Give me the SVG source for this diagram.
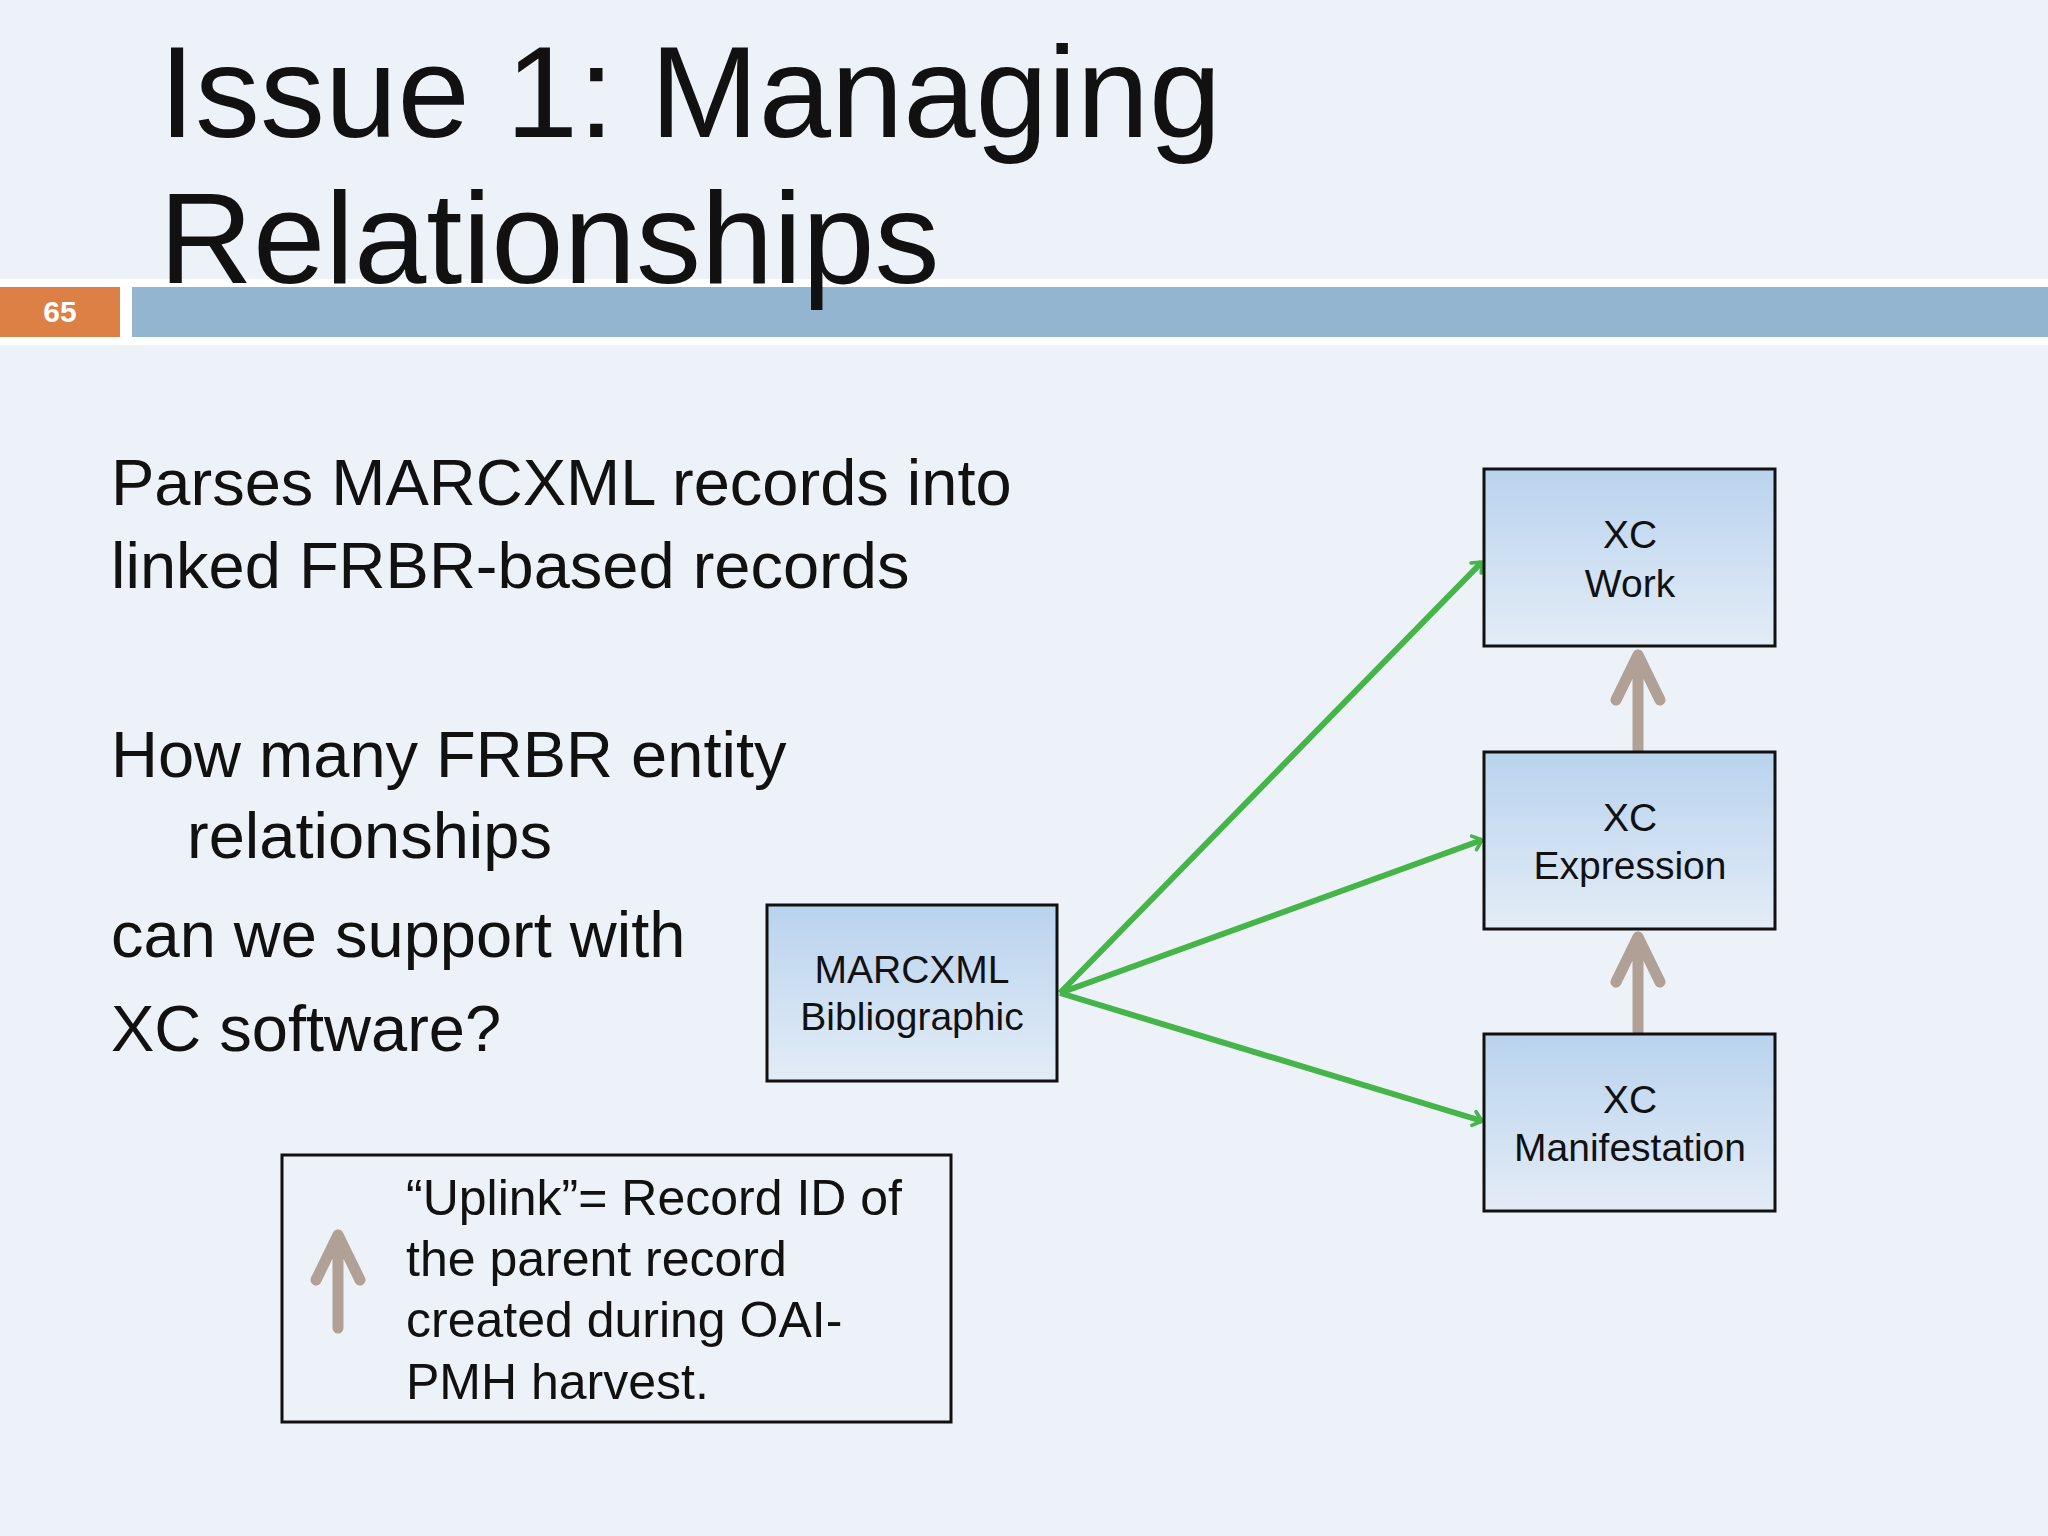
<svg xmlns="http://www.w3.org/2000/svg" width="2048" height="1536" viewBox="0 0 2048 1536">
<defs>
<linearGradient id="g" x1="0" y1="0" x2="0" y2="1"><stop offset="0" stop-color="#b9d3ee"/><stop offset="1" stop-color="#e3ecf6"/></linearGradient>
<marker id="ga" viewBox="0 0 10 10" refX="9" refY="5" markerWidth="6" markerHeight="6" markerUnits="userSpaceOnUse" orient="auto" overflow="visible"><path d="M-14,-12 L0,0 L-14,12" transform="translate(9,5)" fill="none" stroke="#45b54a" stroke-width="6" stroke-linecap="round" stroke-linejoin="round"/></marker>
</defs>
<style>
text{font-family:"Liberation Sans",Arial,sans-serif;fill:#111}
.box{fill:url(#g);stroke:#111;stroke-width:3}
.bt{font-size:39px;text-anchor:middle}
.body{font-size:65px}
.leg{font-size:50px}
.green{stroke:#45b54a;stroke-width:6;fill:none;marker-end:url(#ga)}
.brown{stroke:#b1a096;stroke-width:11;fill:none;stroke-linecap:round;stroke-linejoin:round}
</style>
<rect width="2048" height="1536" fill="#edf1f8"/>
<rect x="0" y="279" width="2048" height="66" fill="#fff"/>
<rect x="0" y="287" width="120" height="50" fill="#dd8046"/>
<rect x="132" y="287" width="1916" height="50" fill="#93b5d0"/>
<text x="60" y="322" style="font-size:30px;font-weight:bold;fill:#fff;text-anchor:middle">65</text>
<text x="159" y="137" style="font-size:130px">Issue 1: Managing</text>
<text x="159" y="283" style="font-size:130px">Relationships</text>
<text class="body" x="111" y="505">Parses MARCXML records into</text>
<text class="body" x="111" y="588">linked FRBR-based records</text>
<text class="body" x="111" y="777">How many FRBR entity</text>
<text class="body" x="187" y="858">relationships</text>
<text class="body" x="111" y="957">can we support with</text>
<text class="body" x="111" y="1051">XC software?</text>
<g id="connectors">
<line class="green" x1="1060" y1="993" x2="1482" y2="562"/>
<line class="green" x1="1060" y1="993" x2="1482" y2="840"/>
<line class="green" x1="1060" y1="993" x2="1482" y2="1121"/>
<path class="brown" d="M1638,750 V655 M1616,700 L1638,655 L1660,700"/>
<path class="brown" d="M1638,1032 V937 M1616,982 L1638,937 L1660,982"/>
</g>
<g id="marc"><rect class="box" x="767" y="905" width="290" height="176"/><text class="bt" x="912" y="983">MARCXML</text><text class="bt" x="912" y="1030">Bibliographic</text></g>
<g id="work"><rect class="box" x="1484" y="469" width="291" height="177"/><text class="bt" x="1630" y="548">XC</text><text class="bt" x="1630" y="597">Work</text></g>
<g id="expr"><rect class="box" x="1484" y="752" width="291" height="177"/><text class="bt" x="1630" y="831">XC</text><text class="bt" x="1630" y="879">Expression</text></g>
<g id="manif"><rect class="box" x="1484" y="1034" width="291" height="177"/><text class="bt" x="1630" y="1113">XC</text><text class="bt" x="1630" y="1161">Manifestation</text></g>
<g id="legend">
<rect x="282" y="1155" width="669" height="267" fill="none" stroke="#111" stroke-width="3"/>
<path class="brown" d="M338,1328 V1235 M316,1280 L338,1235 L360,1280"/>
<text class="leg" x="406" y="1215">“Uplink”= Record ID of</text>
<text class="leg" x="406" y="1276">the parent record</text>
<text class="leg" x="406" y="1337">created during OAI-</text>
<text class="leg" x="406" y="1399">PMH harvest.</text>
</g>
</svg>
